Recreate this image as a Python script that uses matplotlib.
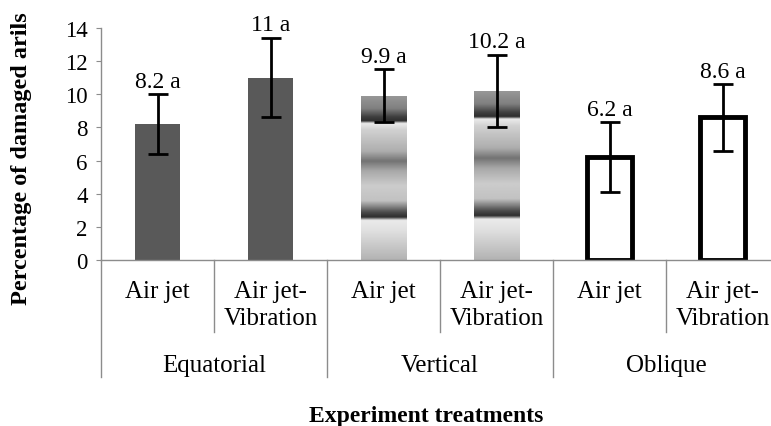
import matplotlib
matplotlib.use('Agg')
import matplotlib.pyplot as plt
import numpy as np

# data
groups = ['Equatorial', 'Vertical', 'Oblique']
methods = ['Air jet', 'Air jet-\nVibration']
values = [8.2, 11.0, 9.9, 10.2, 6.2, 8.6]
errors = [1.8, 2.4, 1.6, 2.2, 2.1, 2.0]
labels = ['8.2 a', '11 a', '9.9 a', '10.2 a', '6.2 a', '8.6 a']
yticks = [0, 2, 4, 6, 8, 10, 12, 14]

plt.rcParams['font.family'] = ['Liberation Serif', 'DejaVu Serif']

AXIS_GRAY = '#8c8c8c'
DARK = '#595959'
# banded gradient used by the "Vertical" bars (t = 0 top of bar, 1 bottom)
band_stops = [(0.00, 0.60), (0.08, 0.50), (0.13, 0.25), (0.155, 0.18),
              (0.17, 0.92), (0.21, 0.82), (0.34, 0.68), (0.40, 0.45),
              (0.46, 0.66), (0.55, 0.80), (0.64, 0.76), (0.71, 0.30),
              (0.74, 0.18), (0.76, 0.92), (0.82, 0.88), (1.00, 0.70)]

fig = plt.figure(figsize=(7.71, 4.27), dpi=100)
ax = fig.add_axes([101 / 771, 166 / 427, 678 / 771, 232 / 427])

n = len(values)
x = np.arange(n) + 0.5
width = 0.4

bars = ax.bar(x, values, width=width, color=DARK, edgecolor='none', zorder=2)

t = np.linspace(0, 1, 300)
prof = np.interp(t, [s[0] for s in band_stops], [s[1] for s in band_stops])
for i, b in enumerate(bars):
    g = i // 2
    if g == 1:
        b.set_facecolor('none')
        x0 = b.get_x()
        im = ax.imshow(prof[:, None], cmap='gray', vmin=0, vmax=1, aspect='auto',
                       extent=[x0, x0 + b.get_width(), 0, b.get_height()],
                       interpolation='bilinear', zorder=1.5)
        im.set_clip_path(b)
    elif g == 2:
        b.set_facecolor('white')
        b.set_edgecolor('black')
        b.set_linewidth(3.5)

ax.errorbar(x, values, yerr=errors, fmt='none', ecolor='black', elinewidth=2,
            capsize=7, capthick=2, zorder=3)

for xi, v, e, lab in zip(x, values, errors, labels):
    ax.annotate(lab, (xi, v + e), xytext=(0, 2), textcoords='offset points',
                ha='center', va='bottom', fontsize=17)

ax.set_xlim(0, n)
ax.set_ylim(0, 14)
ax.set_yticks(yticks)
ax.tick_params(axis='y', direction='out', length=3.6, width=0.8, color=AXIS_GRAY,
               labelsize=16.5, pad=6)
ax.set_xticks([])
for s in ['top', 'right']:
    ax.spines[s].set_visible(False)
for s in ['left', 'bottom']:
    ax.spines[s].set_color(AXIS_GRAY)
    ax.spines[s].set_linewidth(1)

# two-level category axis
tr = ax.get_xaxis_transform()
for k in range(n + 1):
    bottom = -0.504 if k % 2 == 0 else -0.31
    ax.plot([k, k], [0, bottom], transform=tr, color=AXIS_GRAY, lw=1, clip_on=False)
for i in range(n):
    ax.text(x[i], -0.085, methods[i % 2], transform=tr, ha='center', va='top',
            fontsize=18, linespacing=1.3)
for g, name in enumerate(groups):
    ax.text(2 * g + 1, -0.405, name, transform=tr, ha='center', va='top', fontsize=18)

fig.text(0.028, 0.628, 'Percentage of damaged arils', rotation=90, ha='center',
         va='center', fontsize=17.5, fontweight='bold')
fig.text(0.553, 0.012, 'Experiment treatments', ha='center', va='baseline',
         fontsize=17, fontweight='bold')

fig.savefig('out.png', dpi=100)
